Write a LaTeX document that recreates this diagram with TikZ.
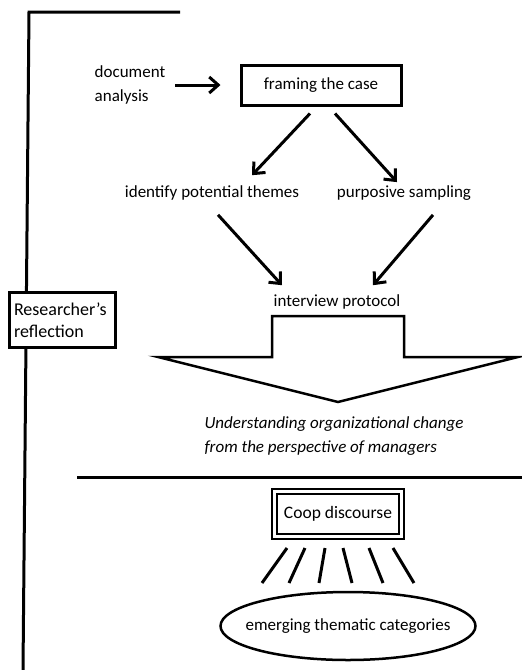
\documentclass[tikz,border=0pt]{standalone}
\usepackage{fontspec}
\setmainfont{Carlito}
\usetikzlibrary{arrows.meta}

\tikzset{
  thickline/.style={line width=3pt},
  flowarrow/.style={line width=3pt, -{Straight Barb[length=9pt,width=16pt]}},
  plain/.style={font=\fontsize{17}{24}\selectfont},
  framebox/.style={draw, line width=3pt, plain, inner sep=3pt},
}

\begin{document}
\begin{tikzpicture}[x=1pt,y=-1pt]
\useasboundingbox (0,0) rectangle (522,670);

% frame of the researcher
\draw[thickline] (180,12) -- (29,12) -- (23,670);
\node[framebox, fill=white, align=left, minimum width=106pt, minimum height=55pt,
      text width=96pt, font=\fontsize{18}{22}\selectfont] (reflect) at (62,320) {Researcher’s\\reflection};

% first stage
\node[plain, align=left, inner sep=3pt] (docana) at (130,85) {document\\analysis};
\node[framebox, minimum width=160pt, minimum height=40pt] (frame) at (321,85) {framing the case};
\node[plain] (themes) at (212,193) {identify potential themes};
\node[plain] (sampling) at (404,193) {purposive sampling};
\node[plain] (protocol) at (337,302) {interview protocol};

\draw[flowarrow, shorten <=7pt, shorten >=19pt] (docana.east) -- (frame.west);
\draw[flowarrow] ([xshift=-11pt,yshift=-7pt]frame.south) -- ([xshift=40pt,yshift=7pt]themes.north);
\draw[flowarrow] ([xshift=14pt,yshift=-7pt]frame.south) -- ([xshift=-7pt]sampling.north);
\draw[flowarrow] ([xshift=6pt,yshift=-11pt]themes.south) -- ([xshift=-55pt,yshift=6pt]protocol.north);
\draw[flowarrow] ([xshift=29pt,yshift=-11pt]sampling.south) -- ([xshift=36pt,yshift=6pt]protocol.north);

% big arrow
\draw[line width=2.5pt, line join=miter] (272,357) -- (272,316) -- (404,316) -- (404,357)
  -- (518,357) -- (338,402) -- (158,357) -- cycle;
\node[plain, font=\fontsize{17}{24}\selectfont\itshape, align=left, anchor=west] (focus) at (201,436)
  {Understanding organizational change\\from the perspective of managers};

% second stage
\draw[thickline] (77,477) -- (522,477);
\node[draw, double, line width=2.2pt, double distance=3.5pt, font=\fontsize{17.5}{24}\selectfont,
      minimum width=127pt, minimum height=45pt] (coop) at (338,514) {Coop discourse};
\foreach \xa/\xb in {287/262, 305/289, 325/319, 343/352, 369/383, 393/414}
  \draw[thickline] (\xa,548) -- (\xb,583);
\node[plain, inner sep=0pt] (categories) at (348,626) {emerging thematic categories};
\draw[line width=2.5pt] (categories.center) ellipse [x radius=127.5, y radius=34];
\end{tikzpicture}
\end{document}
